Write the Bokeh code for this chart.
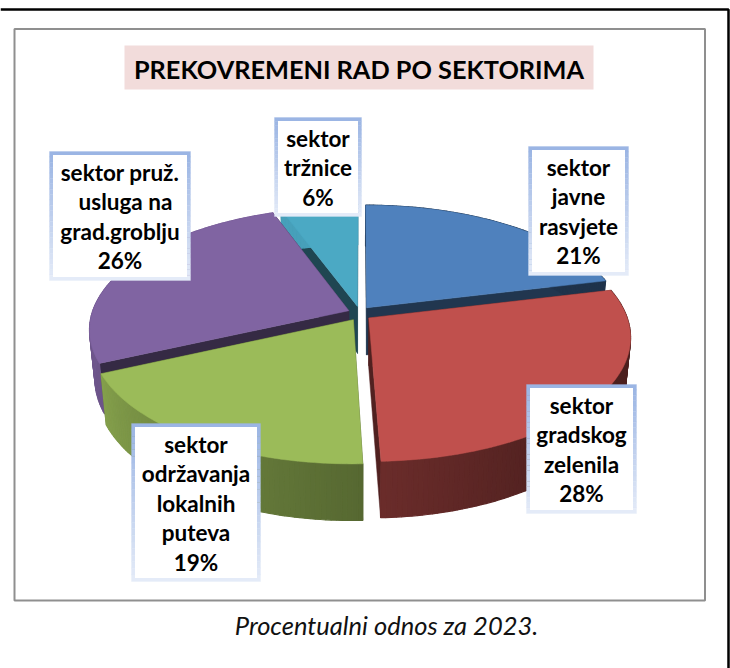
import numpy as np
from bokeh.plotting import figure
from bokeh.models import Range1d
from bokeh.core.properties import value
from bokeh.embed import file_html
from bokeh.resources import INLINE

# ---- data ----
sectors = ["javne rasvjete", "gradskog zelenila", "održavanja lokalnih puteva",
           "pruž. usluga na grad.groblju", "tržnice"]
shares = [21.2, 28.25, 18.75, 26.2, 5.6]
colors = ["#4F81BD", "#C0504D", "#9BBB59", "#8064A2", "#4BA9C4"]
label_lines = [
    ["sektor", "javne", "rasvjete", "21%"],
    ["sektor", "gradskog", "zelenila", "28%"],
    ["sektor", "održavanja", "lokalnih", "puteva", "19%"],
    ["sektor pruž.", "\u00a0\u00a0usluga na", "grad.groblju", "26%"],
    ["sektor", "tržnice", "6%"],
]
title_text = "PREKOVREMENI RAD PO SEKTORIMA"
caption_text = "Procentualni odnos za 2023."

# ---- layout (pixels of the page) ----
W, H = 730, 668
label_boxes = [(528, 146, 628, 275), (526, 384, 636, 513), (131, 423, 260, 581),
               (49, 151, 190, 280), (274, 117, 361, 216)]
draw_order = [4, 0, 3, 1, 2]
CX, CY, RX, RY, PERSP, DEPTH, EXPLODE, TAPER = 359, 313, 257, 120, 0.153, 47.5, 0.045, 0.02
EXPLODE_Y = 1.35

p = figure(width=W, height=H, x_range=Range1d(0, W), y_range=Range1d(H, 0),
           output_backend="svg", toolbar_location=None, min_border=0)
p.axis.visible = False
p.grid.visible = False
p.outline_line_color = None
p.background_fill_color = "white"
p.border_fill_color = "white"

# page rules and frame
p.line([0, 728, 728], [9, 9, H], line_color="black", line_width=2.5)
p.quad(left=[14], right=[704.5], top=[28.5], bottom=[600], fill_color="white",
       line_color="#8f8f8f", line_width=2)
p.quad(left=[124], right=[593], top=[45], bottom=[89], fill_color="#F2DCDB", line_color=None)
p.text([358.5], [68], text=[title_text], text_font=value("Lato"), text_font_style="bold",
       text_font_size="25.3px", text_align="center", text_baseline="middle", text_color="black")
p.text([386], [624], text=[caption_text], text_font=value("Lato"), text_font_style="italic",
       text_font_size="25.5px", text_align="center", text_baseline="middle", text_color="#111111")


def proj(u, v, z):
    u, v = np.asarray(u, float), np.asarray(v, float)
    s = 1 / (1 + PERSP * v)
    return CX + RX * u * s * (1 - TAPER * z), CY - RY * v * s + DEPTH * s * z


def shade(hex_col, f):
    rgb = [int(hex_col[i:i + 2], 16) for i in (1, 3, 5)]
    return "#%02x%02x%02x" % tuple(int(c * f) for c in rgb)


def rim_factor(deg):
    return float(np.interp(deg, [90, 140, 176, 244, 340], [0.40, 0.41, 0.55, 0.85, 0.95]))


edges = np.cumsum([0] + shares) / sum(shares) * 360.0
for i in draw_order:
    a0, a1 = edges[i], edges[i + 1]
    mid = np.radians((a0 + a1) / 2)
    ex, ey = EXPLODE * np.sin(mid), EXPLODE * EXPLODE_Y * np.cos(mid)
    th = np.radians(np.linspace(a0, a1, max(int(a1 - a0), 2) + 1))
    u, v = ex + np.sin(th), ey + np.cos(th)
    xt, yt = proj(u, v, 0)
    xb, yb = proj(u, v, 1)
    ax, ay = proj(ex, ey, 0)
    bx, by = proj(ex, ey, 1)
    wall = shade(colors[i], 0.42)
    # radial walls
    for k in (0, -1):
        p.patch([ax, xt[k], xb[k], bx], [ay, yt[k], yb[k], by], fill_color=wall, line_color=wall, line_width=0.5)
    # outer rim, shaded by direction
    xs, ys, cs = [], [], []
    for k in range(len(th) - 1):
        xs.append([xt[k], xt[k + 1], xb[k + 1], xb[k]])
        ys.append([yt[k], yt[k + 1], yb[k + 1], yb[k]])
        cs.append(shade(colors[i], rim_factor(np.degrees(th[k]))))
    p.patches(xs, ys, fill_color=cs, line_color=cs, line_width=1.2)
    # top face
    p.patch(np.r_[ax, xt], np.r_[ay, yt], fill_color=colors[i], line_color=colors[i], line_width=0.5)

# data labels with a fading blue border
TOPC, BOTC = np.array([0x9B, 0xB5, 0xE4]), np.array([0xE4, 0xEB, 0xF8])
for i, (x0, y0, x1, y1) in enumerate(label_boxes):
    n = 24
    ed = np.linspace(y0, y1, n + 1)
    cols = ["#%02x%02x%02x" % tuple(int(c) for c in TOPC + (BOTC - TOPC) * j / (n - 1)) for j in range(n)]
    p.quad(left=[x0] * n, right=[x1] * n, top=ed[:-1], bottom=ed[1:], fill_color=cols, line_color=cols, line_width=0.3)
    p.quad(left=[x0 + 3.5], right=[x1 - 3.5], top=[y0 + 3.5], bottom=[y1 - 3.5], fill_color="white", line_color=None)
    lines = label_lines[i]
    pitch = 29.5
    yc = (y0 + y1) / 2 - pitch * (len(lines) - 1) / 2 + 0.5
    p.text([(x0 + x1) / 2] * len(lines), [yc + pitch * j for j in range(len(lines))], text=lines,
           text_font=value("Lato"), text_font_style="bold", text_font_size="22.5px",
           text_align="center", text_baseline="middle", text_color="black")

open("out.html", "w").write(file_html(p, INLINE))
